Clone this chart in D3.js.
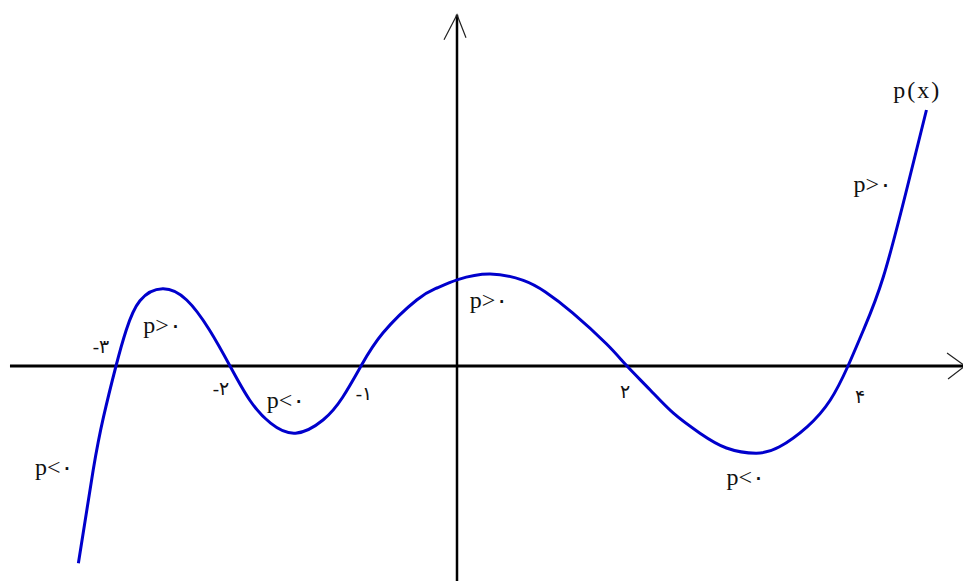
<!DOCTYPE html>
<html>
<head>
<meta charset="utf-8">
<script src="https://cdn.jsdelivr.net/npm/d3@7"></script>
<style>
  body { margin: 0; background: #fff; }
  text { font-family: "Liberation Serif", "DejaVu Sans", serif; }
</style>
</head>
<body>
<div id="chart"></div>
<script>
const WIDTH = 963;
const HEIGHT = 581;

// roots of p(x) and their (persian) labels
const rootValues = [-3, -2, -1, 2, 4];
const rootLabels = ["-۳", "-۲", "-۱", "۲", "۴"];

// points (x, p(x)) in the drawing's own units
const curveX = [-3.33, -3.20, -3.11, -3, -2.91, -2.79, -2.59, -2.38, -2.18, -2,
    -1.85, -1.69, -1.50, -1.29, -1.14, -1, -0.77, -0.42, -0.21, 0.01, 0.39, 0.78, 1.04,
    1.36, 1.76, 2, 2.21, 2.42, 2.66, 2.90, 3.17, 3.38, 3.63, 3.84, 4, 4.14, 4.32, 4.53,
    4.71];
const curveY = [-4.93, -2.6, -1.28, 0, 0.9, 1.63, 1.93, 1.65, 0.9, 0,
    -0.85, -1.43, -1.68, -1.35, -0.78, 0, 0.83, 1.65, 1.95, 2.16, 2.3, 2.14, 1.85,
    1.33, 0.55, 0, -0.6, -1.18, -1.68, -2.05, -2.18, -2.02, -1.52, -0.85, 0, 0.9, 2.23, 4.4,
    6.4];

// sign annotations
const signText = ["p<۰", "p>۰", "p<۰", "p>۰", "p<۰", "p>۰", "p(x)"];
const signX = [-3.71, -2.76, -1.72, 0.15, 2.90, 4.05, 4.41];
const signY = [-2.73, 0.83, -1.05, 1.45, -2.98, 4.35, 6.7];

// extent of the axes
const xExtent = [-3.93, 5.05];
const yExtent = [-5.4, 8.78];

// the sketch is not drawn to a uniform scale, so the x scale is piecewise
const x = d3.scaleLinear()
    .domain([-3, -2, -1, 0, 2, 4])
    .range([116, 230, 361, 457, 627, 848]);

const y = d3.scaleLinear()
    .domain([-5, 8.5])
    .range([566, 26]);

const svg = d3.select("#chart").append("svg")
    .attr("width", WIDTH)
    .attr("height", HEIGHT);

// x axis
svg.append("line")
    .attr("x1", x(xExtent[0])).attr("x2", x(xExtent[1]))
    .attr("y1", y(0)).attr("y2", y(0))
    .attr("stroke", "#000").attr("stroke-width", 3);

// y axis
svg.append("line")
    .attr("x1", x(0)).attr("x2", x(0))
    .attr("y1", y(yExtent[0])).attr("y2", y(yExtent[1]))
    .attr("stroke", "#000").attr("stroke-width", 2.5);

// arrow heads (open chevrons)
const xEnd = x(xExtent[1]);
svg.append("path")
    .attr("d", `M${xEnd - 17},${y(0) - 13} L${xEnd + 1},${y(0)} L${xEnd - 16},${y(0) + 13}`)
    .attr("fill", "none").attr("stroke", "#222").attr("stroke-width", 1.2);

const yEnd = y(yExtent[1]);
svg.append("path")
    .attr("d", `M${x(0) - 13},${yEnd + 25} L${x(0)},${yEnd} L${x(0) + 9},${yEnd + 23}`)
    .attr("fill", "none").attr("stroke", "#222").attr("stroke-width", 1.2);

// the curve
const pts = curveX.map((d, i) => ({ x: d, y: curveY[i] }));
const line = d3.line()
    .x(d => x(d.x))
    .y(d => y(d.y))
    .curve(d3.curveNatural);

svg.append("path")
    .datum(pts)
    .attr("d", line)
    .attr("fill", "none")
    .attr("stroke", "#0000cc")
    .attr("stroke-width", 3);

// root labels, nudged like in the sketch
const rootOffsets = [[-15, -13], [-9, 29], [3, 34], [-2, 32], [12, 37]];
svg.selectAll(".root-label")
    .data(rootValues)
    .enter().append("text")
    .attr("class", "root-label")
    .attr("x", (d, i) => x(d) + rootOffsets[i][0])
    .attr("y", (d, i) => y(0) + rootOffsets[i][1])
    .attr("text-anchor", "middle")
    .attr("font-size", 19)
    .attr("fill", "#111")
    .text((d, i) => rootLabels[i]);

// sign labels
svg.selectAll(".sign-label")
    .data(signText)
    .enter().append("text")
    .attr("class", "sign-label")
    .attr("x", (d, i) => x(signX[i]))
    .attr("y", (d, i) => y(signY[i]))
    .attr("font-size", 24)
    .attr("letter-spacing", d => d === "p(x)" ? 2 : 0)
    .attr("fill", "#111")
    .text(d => d);
</script>
</body>
</html>
